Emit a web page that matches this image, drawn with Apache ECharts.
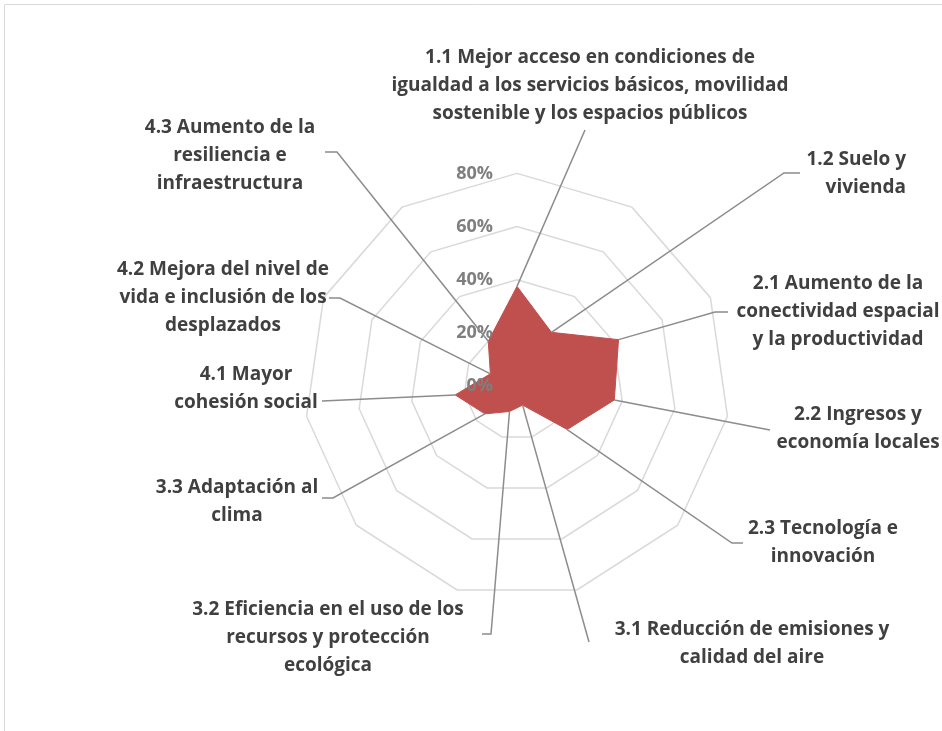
<!DOCTYPE html>
<html><head><meta charset="utf-8">
<script src="https://cdn.jsdelivr.net/npm/echarts@6/dist/echarts.min.js"></script>
<style>html,body{margin:0;padding:0;background:#fff;overflow:hidden}#c{width:942px;height:731px}</style>
</head><body><div id="c"></div>
<script>
// ---- data ----
const categories = [
  '1.1 Mejor acceso en condiciones de\nigualdad a los servicios básicos, movilidad\nsostenible y los espacios públicos',
  '1.2 Suelo y\nvivienda',
  '2.1 Aumento de la\nconectividad espacial\ny la productividad',
  '2.2 Ingresos y\neconomía locales',
  '2.3 Tecnología e\ninnovación',
  '3.1 Reducción de emisiones y\ncalidad del aire',
  '3.2 Eficiencia en el uso de los\nrecursos y protección\necológica',
  '3.3 Adaptación al\nclima',
  '4.1 Mayor\ncohesión social',
  '4.2 Mejora del nivel de\nvida e inclusión de los\ndesplazados',
  '4.3 Aumento de la\nresiliencia e\ninfraestructura'
];
const values = [37.5, 24, 42, 37, 25, 7.5, 10, 16, 23.5, 11, 20];
const axisMin = 0;
const axisMax = 80;
const tickStep = 20;

// ---- layout (annotation placement) ----
const CENTER = [517, 386];
const RADIUS = 212.6;
const LABEL_FONT = 'bold 19px "Open Sans"';
const labelPos = [ // [x, y of first line centre, align]
  [590, 58, 'center'], [906, 160, 'right'], [838, 284, 'center'], [858, 415, 'center'],
  [823, 529, 'center'], [752, 630, 'center'], [328, 610, 'center'], [237, 488, 'center'],
  [246, 375, 'center'], [223, 270, 'center'], [230, 128, 'center']
];
const leaderEnds = [
  [[585, 130]], [[784, 173], [800, 173]], [[715, 312], [728, 312]], [[770, 430]],
  [[732, 543], [743, 543]], [[589, 642]], [[491, 634], [482, 634]], [[333, 498], [322, 498]],
  [[322, 401]], [[340, 298], [329, 298]], [[337, 152], [325, 152]]
];

const n = categories.length;
// ECharts radar goes counter-clockwise; reverse order (keeping first at top) for clockwise layout
const order = [0].concat(Array.from({length: n - 1}, (_, k) => n - 1 - k));
const indicators = order.map(i => ({ name: categories[i], min: axisMin, max: axisMax }));
const seriesData = order.map(i => values[i]);

const chart = echarts.init(document.getElementById('c'), null, { renderer: 'canvas' });
const baseRadar = {
  center: CENTER, radius: RADIUS, startAngle: 90, shape: 'polygon',
  splitNumber: (axisMax - axisMin) / tickStep, indicator: indicators,
  axisName: { show: false }
};
chart.setOption({
  backgroundColor: '#ffffff',
  animation: false,
  radar: [
    Object.assign({}, baseRadar, {
      z: 0,
      axisLine: { show: false }, axisTick: { show: false }, axisLabel: { show: false },
      splitLine: { lineStyle: { color: '#d9d9d9', width: 1.5 } },
      splitArea: { show: false }
    }),
    Object.assign({}, baseRadar, {
      z: 5,
      indicator: indicators.map((ind, k) => Object.assign({}, ind, k === 0 ? {} : { axisLabel: { show: false } })),
      axisLine: { show: false }, axisTick: { show: false },
      splitLine: { show: false }, splitArea: { show: false },
      axisLabel: {
        show: true, showMinLabel: true, showMaxLabel: true,
        formatter: '{value}%', color: '#7f7f7f', fontSize: 18, fontWeight: 'bold',
        fontFamily: 'Open Sans', margin: 24
      }
    })
  ],
  series: [{
    type: 'radar', radarIndex: 0, symbol: 'none', z: 2,
    lineStyle: { color: '#c0504d', width: 1 },
    areaStyle: { color: '#c0504d', opacity: 1 },
    data: [{ value: seriesData }]
  }]
});

function pointOf(i) {
  const k = order.indexOf(i);
  try {
    const cs = chart.getModel().getComponent('radar', 0).coordinateSystem;
    const p = cs.dataToPoint(values[i], k);
    if (p && isFinite(p[0])) return p;
  } catch (e) {}
  const a = Math.PI / 2 + k * 2 * Math.PI / n;
  const r = (values[i] - axisMin) / (axisMax - axisMin) * RADIUS;
  return [CENTER[0] + r * Math.cos(a), CENTER[1] - r * Math.sin(a)];
}

const graphics = [{
  type: 'rect', shape: { x: 4.5, y: 4.5, width: 1000, height: 1000 },
  style: { fill: 'none', stroke: '#d9d9d9', lineWidth: 1 }, silent: true, z: 0
}];
for (let i = 0; i < n; i++) {
  const pts = [pointOf(i)].concat(leaderEnds[i]);
  graphics.push({
    type: 'polyline', shape: { points: pts },
    style: { stroke: '#8c8c8c', lineWidth: 1.5, fill: 'none' }, silent: true, z: 10
  });
  const lp = labelPos[i];
  graphics.push({
    type: 'text', x: lp[0], y: lp[1] - 14, silent: true, z: 10,
    style: {
      text: categories[i], align: lp[2], verticalAlign: 'top',
      font: LABEL_FONT, fill: '#404040', lineHeight: 28
    }
  });
}
chart.setOption({ graphic: graphics });
</script>
</body></html>
